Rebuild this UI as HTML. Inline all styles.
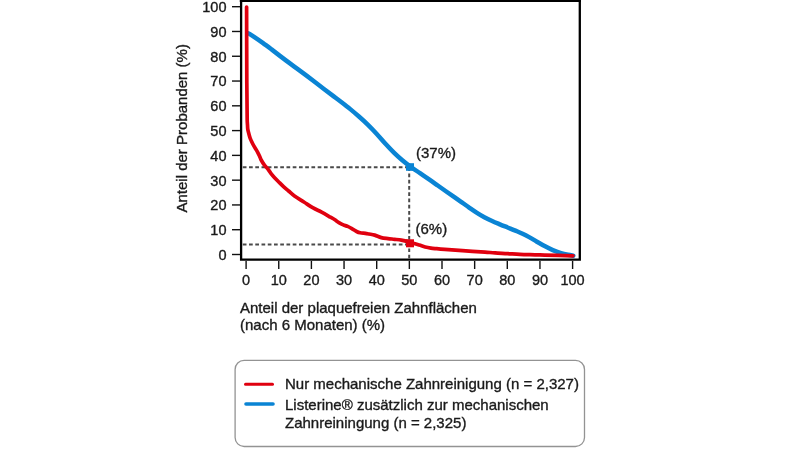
<!DOCTYPE html>
<html><head><meta charset="utf-8"><style>
html,body{margin:0;padding:0;background:#fff;}
body{width:800px;height:451px;overflow:hidden;}
svg{display:block;filter:blur(0.35px);}
text{font-family:"Liberation Sans",Arial,sans-serif;fill:#1a1a1a;stroke:#1a1a1a;stroke-width:0.35px;}
</style></head><body>
<svg width="800" height="451" viewBox="0 0 800 451">
<rect width="800" height="451" fill="#fff"/>
<g stroke="#4a4a4a" stroke-width="2" stroke-dasharray="3.7 2.54" fill="none">
<line x1="242.8" y1="167.3" x2="409.2" y2="167.3"/>
<line x1="242.8" y1="244.4" x2="409.2" y2="244.4"/>
<line x1="409.2" y1="167.3" x2="409.2" y2="259"/>
</g>
<path d="M248.50,33.30 C249.55,33.97 252.43,35.75 254.80,37.35 C257.18,38.95 259.96,40.86 262.75,42.88 C265.54,44.89 268.63,47.22 271.55,49.42 C274.47,51.63 277.38,53.89 280.27,56.10 C283.17,58.31 286.04,60.50 288.95,62.67 C291.86,64.85 294.80,67.01 297.73,69.17 C300.65,71.34 303.61,73.47 306.53,75.65 C309.44,77.83 312.33,80.04 315.23,82.25 C318.12,84.46 321.01,86.70 323.93,88.93 C326.84,91.15 329.79,93.35 332.73,95.58 C335.66,97.80 338.62,99.99 341.55,102.25 C344.48,104.51 347.38,106.75 350.27,109.12 C353.17,111.50 356.04,113.95 358.95,116.53 C361.86,119.10 364.80,121.74 367.73,124.60 C370.65,127.46 373.61,130.52 376.53,133.68 C379.44,136.83 382.33,140.37 385.23,143.53 C388.12,146.68 391.08,149.84 393.93,152.62 C396.77,155.41 399.53,157.88 402.32,160.25 C405.12,162.62 407.73,164.67 410.68,166.82 C413.62,168.98 416.87,171.04 420.00,173.18 C423.13,175.31 426.49,177.57 429.45,179.62 C432.41,181.68 435.10,183.63 437.77,185.53 C440.45,187.42 442.94,189.16 445.52,190.97 C448.11,192.79 450.71,194.59 453.30,196.40 C455.89,198.21 458.49,200.01 461.07,201.82 C463.66,203.64 466.24,205.49 468.83,207.28 C471.41,209.06 473.99,210.88 476.57,212.53 C479.16,214.18 481.74,215.76 484.33,217.18 C486.91,218.59 489.51,219.83 492.10,221.02 C494.69,222.22 497.29,223.25 499.88,224.32 C502.46,225.40 505.04,226.42 507.62,227.47 C510.21,228.53 512.91,229.60 515.40,230.65 C517.89,231.70 520.28,232.67 522.58,233.75 C524.87,234.83 526.83,235.85 529.15,237.12 C531.47,238.40 533.90,239.93 536.48,241.43 C539.05,242.92 541.88,244.65 544.60,246.10 C547.32,247.55 550.06,248.96 552.80,250.12 C555.54,251.29 558.45,252.29 561.02,253.08 C563.60,253.86 566.18,254.39 568.22,254.82 C570.24,255.26 572.45,255.55 573.30,255.70" fill="none" stroke="#0a84d4" stroke-width="4.5" stroke-linejoin="round" stroke-linecap="round"/>
<path d="M246.60,7.00 C246.63,19.17 246.70,61.17 246.80,80.00 C246.88,96.00 247.08,112.50 247.20,120.00 C247.23,122.00 247.40,123.43 247.50,125.00 C247.60,126.57 247.57,127.92 247.80,129.40 C248.03,130.88 248.50,132.42 248.90,133.90 C249.30,135.38 249.65,136.83 250.20,138.30 C250.75,139.77 251.47,141.22 252.20,142.70 C252.93,144.18 253.75,145.72 254.60,147.20 C255.45,148.68 256.48,150.13 257.30,151.60 C258.12,153.07 258.85,154.60 259.50,156.00 C260.15,157.40 260.43,158.57 261.20,160.00 C261.97,161.43 263.00,163.12 264.10,164.60 C265.20,166.08 266.67,167.45 267.80,168.90 C268.93,170.35 269.77,171.83 270.90,173.30 C272.03,174.77 273.25,176.22 274.60,177.70 C275.95,179.18 277.52,180.72 279.00,182.20 C280.48,183.68 281.90,185.13 283.50,186.60 C285.10,188.07 286.77,189.43 288.60,191.00 C290.43,192.57 291.99,194.19 294.50,196.00 C297.05,197.83 300.87,200.05 303.90,202.00 C306.93,203.95 309.75,206.00 312.70,207.70 C315.65,209.40 318.67,210.63 321.60,212.20 C324.53,213.77 328.15,215.88 330.30,217.10 C331.98,218.05 333.07,218.58 334.50,219.50 C335.93,220.42 337.43,221.70 338.90,222.60 C340.37,223.50 341.83,224.27 343.30,224.90 C344.77,225.53 346.22,225.75 347.70,226.40 C349.18,227.05 350.72,227.95 352.20,228.80 C353.68,229.65 355.27,230.83 356.60,231.50 C357.93,232.17 358.72,232.50 360.20,232.80 C361.68,233.10 364.03,233.10 365.50,233.30 C366.91,233.49 367.60,233.73 369.00,234.00 C370.53,234.30 372.65,234.50 374.70,235.10 C376.75,235.70 379.08,237.02 381.30,237.60 C383.52,238.18 385.78,238.32 388.00,238.60 C390.22,238.88 392.38,239.05 394.60,239.30 C396.82,239.55 399.42,239.80 401.30,240.10 C403.16,240.40 404.47,240.70 405.90,241.10 C407.33,241.50 408.52,242.10 409.90,242.50 C411.28,242.90 412.62,243.07 414.20,243.50 C415.78,243.93 417.57,244.52 419.40,245.10 C421.23,245.68 423.28,246.50 425.20,247.00 C427.12,247.50 428.98,247.82 430.90,248.10 C432.82,248.38 434.38,248.48 436.70,248.70 C439.02,248.92 441.56,249.15 444.80,249.40 C449.10,249.73 455.80,250.25 462.50,250.70 C469.20,251.15 479.58,251.73 485.00,252.10 C489.00,252.37 491.25,252.65 495.00,252.90 C498.75,253.15 503.33,253.35 507.50,253.60 C511.67,253.85 515.42,254.20 520.00,254.40 C524.58,254.60 530.90,254.68 535.00,254.80 C538.84,254.91 540.76,255.00 544.60,255.10 C550.93,255.27 568.27,255.68 573.00,255.80" fill="none" stroke="#e0000f" stroke-width="3.7" stroke-linejoin="round" stroke-linecap="round"/>
<rect x="406" y="163.2" width="8" height="7.6" fill="#0a84d4"/>
<rect x="406" y="239.3" width="8" height="8" fill="#e0000f"/>
<path d="M241.1,-1 V259.7 H579.8 V-1" fill="none" stroke="#000" stroke-width="2.3"/>
<line x1="239.8" y1="1" x2="581" y2="1" stroke="#000" stroke-width="2"/>
<g stroke="#111" stroke-width="1.4"><line x1="232" y1="254.50" x2="240" y2="254.50"/><line x1="232" y1="229.72" x2="240" y2="229.72"/><line x1="232" y1="204.94" x2="240" y2="204.94"/><line x1="232" y1="180.16" x2="240" y2="180.16"/><line x1="232" y1="155.38" x2="240" y2="155.38"/><line x1="232" y1="130.60" x2="240" y2="130.60"/><line x1="232" y1="105.82" x2="240" y2="105.82"/><line x1="232" y1="81.04" x2="240" y2="81.04"/><line x1="232" y1="56.26" x2="240" y2="56.26"/><line x1="232" y1="31.48" x2="240" y2="31.48"/><line x1="232" y1="6.70" x2="240" y2="6.70"/><line x1="246.10" y1="261" x2="246.10" y2="269"/><line x1="278.75" y1="261" x2="278.75" y2="269"/><line x1="311.40" y1="261" x2="311.40" y2="269"/><line x1="344.05" y1="261" x2="344.05" y2="269"/><line x1="376.70" y1="261" x2="376.70" y2="269"/><line x1="409.35" y1="261" x2="409.35" y2="269"/><line x1="442.00" y1="261" x2="442.00" y2="269"/><line x1="474.65" y1="261" x2="474.65" y2="269"/><line x1="507.30" y1="261" x2="507.30" y2="269"/><line x1="539.95" y1="261" x2="539.95" y2="269"/><line x1="572.60" y1="261" x2="572.60" y2="269"/></g>
<g font-size="14.5"><text x="226.5" y="259.90" text-anchor="end">0</text><text x="226.5" y="235.12" text-anchor="end">10</text><text x="226.5" y="210.34" text-anchor="end">20</text><text x="226.5" y="185.56" text-anchor="end">30</text><text x="226.5" y="160.78" text-anchor="end">40</text><text x="226.5" y="136.00" text-anchor="end">50</text><text x="226.5" y="111.22" text-anchor="end">60</text><text x="226.5" y="86.44" text-anchor="end">70</text><text x="226.5" y="61.66" text-anchor="end">80</text><text x="226.5" y="36.88" text-anchor="end">90</text><text x="226.5" y="12.10" text-anchor="end">100</text><text x="246.10" y="284.6" text-anchor="middle">0</text><text x="278.75" y="284.6" text-anchor="middle">10</text><text x="311.40" y="284.6" text-anchor="middle">20</text><text x="344.05" y="284.6" text-anchor="middle">30</text><text x="376.70" y="284.6" text-anchor="middle">40</text><text x="409.35" y="284.6" text-anchor="middle">50</text><text x="442.00" y="284.6" text-anchor="middle">60</text><text x="474.65" y="284.6" text-anchor="middle">70</text><text x="507.30" y="284.6" text-anchor="middle">80</text><text x="539.95" y="284.6" text-anchor="middle">90</text><text x="572.60" y="284.6" text-anchor="middle">100</text></g>
<g font-size="15">
<text transform="translate(186.7,212.5) rotate(-90)">Anteil der Probanden (%)</text>
<text x="240" y="312.5">Anteil der plaquefreien Zahnflächen</text>
<text x="240" y="330">(nach 6 Monaten) (%)</text>
<text x="416" y="157.8">(37%)</text>
<text x="415.5" y="234">(6%)</text>
<text x="285" y="388.5">Nur mechanische Zahnreinigung (n = 2,327)</text>
<text x="285" y="410">Listerine® zusätzlich zur mechanischen</text>
<text x="285" y="428.3">Zahnreiningung (n = 2,325)</text>
</g>
<rect x="235.1" y="360.4" width="349.4" height="86.1" rx="9" ry="9" fill="none" stroke="#939393" stroke-width="1.3"/>
<line x1="245.5" y1="384.3" x2="272.5" y2="384.3" stroke="#e0000f" stroke-width="3" stroke-linecap="round"/>
<line x1="246" y1="404" x2="273" y2="404" stroke="#0a84d4" stroke-width="3.6" stroke-linecap="round"/>
</svg>
</body></html>
